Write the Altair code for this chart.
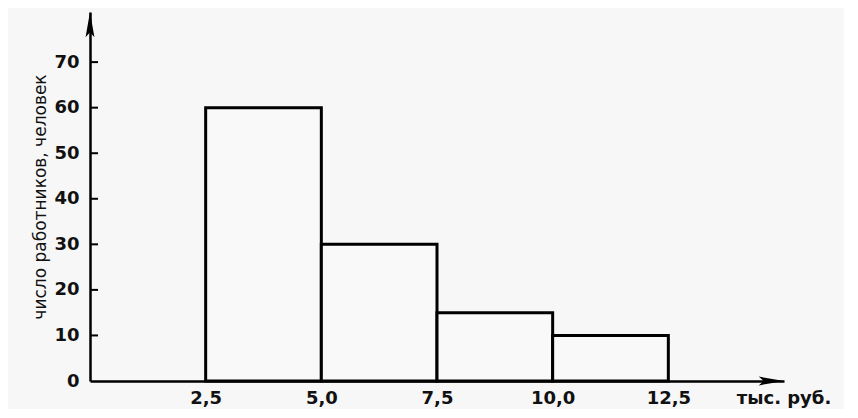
import altair as alt
import pandas as pd

bin_start = [2.5, 5.0, 7.5, 10.0]
bin_end = [5.0, 7.5, 10.0, 12.5]
counts = [60, 30, 15, 10]
y_ticks = [0, 10, 20, 30, 40, 50, 60, 70]
x_ticks = [2.5, 5.0, 7.5, 10.0, 12.5]
x_max = 15
y_max = 81
x_unit = "тыс. руб."
y_title = "число работников, человек"

FONT = "DejaVu Sans"

bars_df = pd.DataFrame({"start": bin_start, "end": bin_end, "count": counts})
xs = alt.Scale(domain=[0, x_max], nice=False, zero=True)
ys = alt.Scale(domain=[0, y_max], nice=False)

x_axis = alt.Axis(
    values=x_ticks,
    labelExpr="replace(format(datum.value, '.1f'), '.', ',')",
    ticks=False, grid=False, title=None,
    domainColor="black", domainWidth=2.5,
    labelFont=FONT, labelFontSize=18, labelFontWeight="bold", labelColor="#111111",
    labelPadding=8)
y_axis = alt.Axis(
    values=y_ticks, ticks=False, grid=False, title=y_title,
    domainColor="black", domainWidth=2.5,
    labelFont=FONT, labelFontSize=18, labelFontWeight="bold", labelColor="#111111",
    labelPadding=11,
    titleFont=FONT, titleFontSize=17, titleFontWeight="normal", titleColor="#111111",
    titlePadding=4)

bars = alt.Chart(bars_df).mark_rect(fill="#f9f9f9", stroke="black", strokeWidth=3).encode(
    x=alt.X("start:Q", scale=xs, axis=x_axis),
    x2="end:Q",
    y=alt.Y("count:Q", scale=ys, axis=y_axis),
    y2=alt.datum(0),
)

ticks = alt.Chart(pd.DataFrame({"v": y_ticks[1:]})).mark_tick(
    orient="horizontal", size=8, thickness=2, xOffset=4, color="black", opacity=1
).encode(
    y=alt.Y("v:Q", scale=ys, axis=y_axis),
    x=alt.datum(0),
)

arrow_path = "M0,0 L0.35,2 L0,1.6 L-0.35,2 Z"
arrows = alt.Chart(pd.DataFrame({"ax": [0, x_max], "ay": [y_max, 0], "a": [0, 90]})).mark_point(
    shape=arrow_path, size=640, filled=True, color="black", opacity=1, strokeWidth=0
).encode(
    x=alt.X("ax:Q", scale=xs, axis=x_axis),
    y=alt.Y("ay:Q", scale=ys, axis=y_axis),
    angle=alt.Angle("a:Q", scale=None),
)

unit = alt.Chart(pd.DataFrame({"ux": [x_max], "uy": [0], "t": [x_unit]})).mark_text(
    dy=18, align="center", baseline="middle", fontSize=18, font=FONT, fontWeight="bold", color="#111111"
).encode(
    x=alt.X("ux:Q", scale=xs, axis=x_axis),
    y=alt.Y("uy:Q", scale=ys, axis=y_axis),
    text="t:N",
)

chart = alt.layer(bars, ticks, arrows, unit).properties(
    width=694, height=369,
    autosize=alt.AutoSizeParams(type="none"),
    padding={"left": 82, "top": 4, "right": 60, "bottom": 28},
    background="#f7f7f7",
).configure_view(stroke=None)

chart.save("out.html", embed_options={"renderer": "svg", "actions": False})
